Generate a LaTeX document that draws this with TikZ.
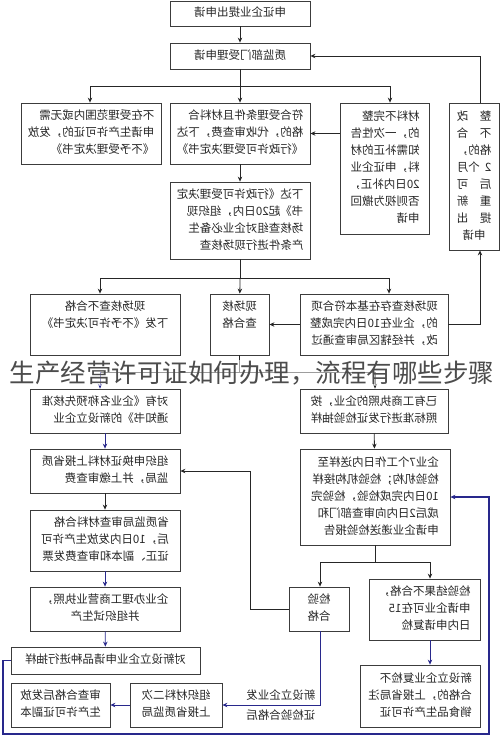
\documentclass[tikz,border=0pt]{standalone}
\usepackage{fontspec}
\newfontfamily\cjk{Noto Sans CJK SC}
\usetikzlibrary{arrows.meta}
\definecolor{boxgray}{RGB}{60,60,60}
\definecolor{navy}{RGB}{40,40,140}
% mirrored text blocks (flush left / centred)
\newcommand\mirl[1]{\scalebox{-1}[1]{\begin{tabular}{@{}l@{}}#1\end{tabular}}}
\newcommand\mirc[1]{\scalebox{-1}[1]{\begin{tabular}{@{}c@{}}#1\end{tabular}}}
\newcommand\sprd[1]{\makebox[3em][s]{#1}}

\begin{document}
\begin{tikzpicture}[x=1pt,y=-1pt,
    box/.style={draw=boxgray, line width=0.8pt, inner sep=2pt,
      font=\cjk\fontsize{11.5}{17}\selectfont, text=black!85},
    arr/.style={-{Stealth[length=5pt,width=4.5pt]}, line width=0.8pt, draw=black!85},
    blu/.style={arr, draw=navy},
    line/.style={line width=0.8pt, draw=black!85},
  ]
  \useasboundingbox (0,0) rectangle (500,736);

  % top part
  \node[box, minimum width=140, minimum height=25] (req) at (240,13.5) {\mirl{申证企业提出申请}};
  \node[box, minimum width=140, minimum height=26] (accept) at (240,56) {\mirl{质监部门受理申请}};
  \node[box, minimum width=140, minimum height=61] (reject) at (91,133.5)
    {\mirl{不在受理范围内或无需\\申请生产许可证的，发放\\《不予受理决定书》}};
  \node[box, minimum width=140, minimum height=61] (ok) at (240,133.5)
    {\mirl{符合受理条件且材料合\\格的，代收审查费，下达\\《行政许可受理决定书》}};
  \node[box, minimum width=89, minimum height=131] (incomplete) at (384.5,168.5)
    {\mirl{材料不完整\\的，一次性告\\知需补正的材\\料，申证企业\\20日内补正，\\否则视为撤回\\申请}};
  \node[box, minimum width=50, minimum height=147] (rectify) at (474,176.5)
    {\mirl{\sprd{整\hfill 改}\\\sprd{不\hfill 合}\\\sprd{格的，}\\\sprd{2\hfill 个月}\\\sprd{后\hfill 可}\\\sprd{重\hfill 新}\\\sprd{提\hfill 出}\\\makebox[3em]{申请}}};
  \node[box, minimum width=140, minimum height=77] (check) at (240,220.5)
    {\mirl{下达《行政许可受理决定\\书》起20日内，组织现\\场核查组对企业必备生\\产条件进行现场核查}};

  % field check
  \node[box, minimum width=150, minimum height=61] (fail) at (105,324.5)
    {\mirc{现场核查不合格\\下发《不予许可决定书》\\~}};
  \node[box, minimum width=59, minimum height=61] (pass) at (239.5,324.5)
    {\mirc{现场核\\查合格\\~}};
  \node[box, minimum width=148, minimum height=61] (minor) at (374,324.5)
    {\mirl{现场核查存在基本符合项\\的，企业在10日内完成整\\改，并经辖区局审查通过}};

  % left column
  \node[box, minimum width=150, minimum height=44] (newent) at (105,411)
    {\mirl{对有《企业名称预先核准\\通知书》的新设立企业}};
  \node[box, minimum width=150, minimum height=44] (submit) at (105,471)
    {\mirl{组织申换证材料上报省质\\监局，并上缴审查费}};
  \node[box, minimum width=150, minimum height=61] (issue) at (105,540.5)
    {\mirl{省质监局审查材料合格\\后，10日内发放生产许可\\证正、副本和审查费发票}};
  \node[box, minimum width=150, minimum height=44] (license) at (105,609)
    {\mirc{企业办理工商营业执照，\\并组织试生产}};
  \node[box, minimum width=189, minimum height=27] (newsample) at (105.5,660.5)
    {\mirl{对新设立企业申请品种进行抽样}};
  \node[box, minimum width=99, minimum height=44] (copy) at (60.5,705)
    {\mirl{审查合格后发放\\生产许可证副本}};
  \node[box, minimum width=92, minimum height=44] (second) at (176,705)
    {\mirl{组织材料二次\\上报省质监局}};

  % right column
  \node[box, minimum width=148, minimum height=44] (oldent) at (374,411)
    {\mirl{已有工商执照的企业，按\\照标准进行发证检验抽样}};
  \node[box, minimum width=150, minimum height=96] (sample) at (375,497)
    {\mirl{企业7个工作日内送样至\\检验机构；检验机构接样\\10日内完成检验，检验完\\成后2日内向审查部门和\\申请企业递送检验报告}};
  \node[box, minimum width=60, minimum height=44] (passed) at (319,609)
    {\mirc{检验\\合格}};
  \node[box, minimum width=111, minimum height=61] (failed) at (424.5,609.5)
    {\mirl{检验结果不合格，\\申请企业可在15\\日内申请复检}};
  \node[box, minimum width=120, minimum height=62] (cancel) at (420,696)
    {\mirl{新设立企业复检不\\合格的，上报省局注\\销食品生产许可证}};

  % connectors, top
  \draw[arr] (req) -- (accept);
  \coordinate (s1l) at (90,86);
  \coordinate (s1r) at (390,86);
  \draw[line] (accept) -- (accept.south |- s1l);
  \draw[line] (s1l) -- (s1r);
  \draw[arr] (s1l) -- (s1l |- reject.north);
  \draw[arr] (accept.south |- s1l) -- (ok);
  \draw[arr] (s1r) -- (s1r |- incomplete.north);
  \draw[arr] (ok.east -| incomplete.west) -- (ok.east);
  \draw[arr] (ok) -- (check);

  % connectors, field check
  \coordinate (s2l) at (100,278);
  \coordinate (s2r) at (389,278);
  \draw[line] (check) -- (check.south |- s2l);
  \draw[line] (s2l) -- (s2r);
  \draw[arr] (s2l) -- (s2l |- fail.north);
  \draw[arr] (check.south |- s2l) -- (pass);
  \draw[arr] (s2r) -- (s2r |- minor.north);
  \draw[arr] (minor) -- (pass);
  \coordinate (rx) at (480,52);
  \draw[arr] (minor.east) -| (rx |- rectify.south);
  \draw[arr] (rx |- rectify.north) |- (accept.east);

  % connectors, two routes
  \coordinate (s3l) at (100,372);
  \coordinate (s3r) at (375,372);
  \draw[line] (pass) -- (pass.south |- s3l);
  \draw[line] (s3l) -- (s3r);
  \draw[blu] (s3l) -- (s3l |- newent.north);
  \draw[arr] (s3r) -- (s3r |- oldent.north);
  \draw[blu] (newent) -- (submit);
  \draw[arr] (submit) -- (issue);
  \draw[blu] (issue) -- (license);
  \draw[blu] (license) -- (newsample);
  \draw[arr] (oldent) -- (sample);

  % connectors, test results
  \coordinate (s4l) at (320,562);
  \coordinate (s4r) at (430,562);
  \coordinate (back) at (250,0);
  \draw[line] (sample) -- (sample.south |- s4l);
  \draw[line] (s4l) -- (s4r);
  \draw[arr] (s4l) -- (s4l |- passed.north);
  \draw[arr] (s4r) -- (s4r |- failed.north);
  \draw[arr] (passed.west) -| (submit.east -| back) -- (submit.east);
  \draw[blu] (passed.south -| s4l) |- (second.east)
    node[pos=0.7, font=\cjk\fontsize{11.5}{20}\selectfont, text=black!85] (passlbl)
    {\mirl{新设立企业发\\证检验合格后}};
  \draw[blu] (second) -- (copy);
  \draw[blu] (s4r |- failed.south) -- (s4r |- cancel.north);

  % loop back for new enterprises
  \coordinate (lp1) at (3,734);
  \coordinate (lp2) at (489,734);
  \draw[blu, line width=1.1pt] (newsample.west) -| (lp1) -| (lp2 |- sample.east) -- (sample.east);

  % overlaid title
  \node[font=\cjk\fontsize{25.5}{30}\selectfont, text=black!70, fill=white,
    fill opacity=0.55, text opacity=1, inner sep=1pt] (title) at (252,373)
    {生产经营许可证如何办理，流程有哪些步骤};
\end{tikzpicture}
\end{document}
